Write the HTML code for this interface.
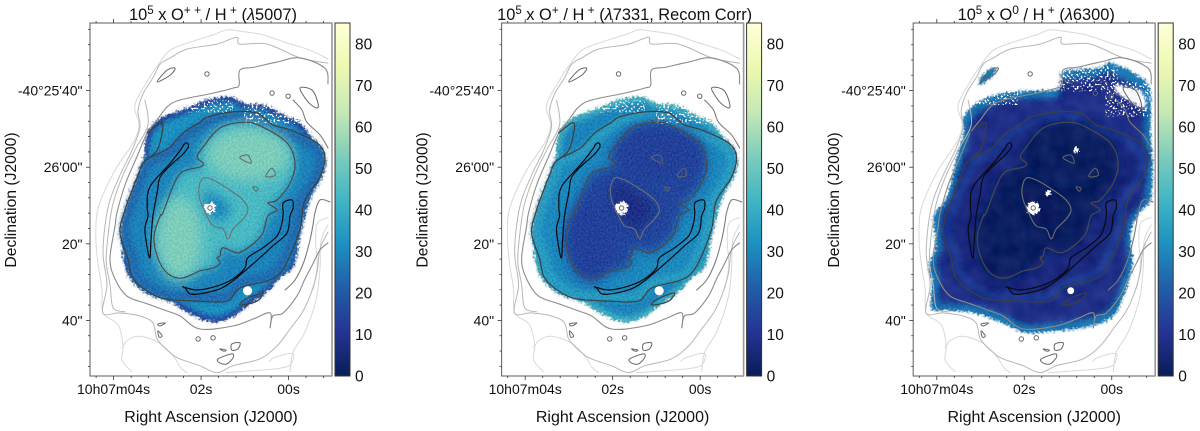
<!DOCTYPE html>
<html lang="en">
<head>
<meta charset="utf-8">
<title>Oxygen abundance maps</title>
<style>
html,body{margin:0;padding:0;background:#fff;width:1200px;height:431px;overflow:hidden}
svg{display:block}
text{font-family:"Liberation Sans",Arial,sans-serif;fill:#111}
.c{fill:none;stroke-linejoin:round;stroke-linecap:round}
.c-a{stroke:#d8d8d8;stroke-width:1}
.c-b{stroke:#b6b6b6;stroke-width:1}
.c-d{stroke:#8c8c8c;stroke-width:1.1}
.c-e{stroke:#7c7c7c;stroke-width:1.1}
.c-g{stroke:#3f3f3f;stroke-width:1.2}
.c-h{stroke:#4a4a4a;stroke-width:1.2}
.c-i{stroke:#707070;stroke-width:1.1}
.c-j{stroke:#0a0a12;stroke-width:1.2}
.c-s{stroke:#666;stroke-width:1}
</style>
</head>
<body>
<svg id="chart" xmlns="http://www.w3.org/2000/svg" width="1200" height="431" viewBox="0 0 1200 431">
  <defs>
    <filter id="speckle-grain" x="-5%" y="-5%" width="110%" height="110%" color-interpolation-filters="sRGB">
      <feTurbulence type="fractalNoise" baseFrequency="0.42" numOctaves="2" seed="4" result="n"/>
      <feDisplacementMap in="SourceGraphic" in2="n" scale="7" xChannelSelector="R" yChannelSelector="G" result="d"/>
      <feTurbulence type="fractalNoise" baseFrequency="0.55" numOctaves="1" seed="9" result="g0"/>
      <feColorMatrix in="g0" type="matrix" values="1 0 0 0 0 1 0 0 0 0 1 0 0 0 0 0 0 0 0 1" result="g"/>
      <feComposite in="d" in2="g" operator="arithmetic" k1="0" k2="1" k3="0.22" k4="-0.11" result="m"/>
      <feComposite in="m" in2="d" operator="in"/>
    </filter>
    <filter id="speckle-smooth" x="-5%" y="-5%" width="110%" height="110%" color-interpolation-filters="sRGB">
      <feTurbulence type="fractalNoise" baseFrequency="0.42" numOctaves="2" seed="7" result="n"/>
      <feDisplacementMap in="SourceGraphic" in2="n" scale="6" xChannelSelector="R" yChannelSelector="G" result="d"/>
      <feTurbulence type="fractalNoise" baseFrequency="0.07" numOctaves="2" seed="12" result="g0"/>
      <feColorMatrix in="g0" type="matrix" values="1 0 0 0 0 1 0 0 0 0 1 0 0 0 0 0 0 0 0 1" result="g"/>
      <feComposite in="d" in2="g" operator="arithmetic" k1="0" k2="1" k3="0.11" k4="-0.065" result="m"/>
      <feComposite in="m" in2="d" operator="in"/>
    </filter>
    <filter id="flecks" x="0" y="0" width="100%" height="100%" color-interpolation-filters="sRGB">
      <feTurbulence type="fractalNoise" baseFrequency="0.5" numOctaves="1" seed="21"/>
      <feColorMatrix type="matrix" values="0 0 0 0 1 0 0 0 0 1 0 0 0 0 1 9 0 0 0 -4.9"/>
    </filter>
    <filter id="soft1" x="-20%" y="-20%" width="140%" height="140%"><feGaussianBlur stdDeviation="1.2"/></filter>
    <filter id="soft3" x="-20%" y="-20%" width="140%" height="140%"><feGaussianBlur stdDeviation="3"/></filter>
    <filter id="soft5" x="-30%" y="-30%" width="160%" height="160%"><feGaussianBlur stdDeviation="5"/></filter>
    <filter id="soft7" x="-50%" y="-50%" width="200%" height="200%"><feGaussianBlur stdDeviation="7"/></filter>
    <linearGradient id="cbar-gradient" x1="0" y1="1" x2="0" y2="0"></linearGradient>
  </defs>
</svg>
<script>
// ---------- data: axis ticks ----------
const raMajorSeconds = [4, 2, 0];
const raMajorLabels = ['10h07m04s', '02s', '00s'];
const decMajorArcsec = [0, 20, 40, 60];
const decMajorLabels = ['-40°25\'40"', '26\'00"', '20"', '40"'];
const colorbarTicks = [0, 10, 20, 30, 40, 50, 60, 70, 80];
const colorMax = 85;
const colormapStops = ['#081d58','#253494','#225ea8','#1d91c0','#41b6c4','#7fcdbb','#c7e9b4','#edf8b1','#ffffd9'];

// ---------- data: region values per panel: rim, body, ring band, ellipse, bright lobes, core, ring interior ----------
const oppRegionValues = [14, 32, 23, 44, 53, 30, 29];
const opRegionValues = [42, 29, 36, 15, 14, 8, 30];
const o0RegionValues = [27, 9, 14, 2, 2, 1, 7];
const panelTitles = ['5007', '7331, Recom Corr', '6300'];

// ---------- data: outlines, [arcsec west of star, arcsec north of star] ----------
const blobOutlineIonized = [[-16.4,19.6],[-13,23.5],[-6.5,26.1],[-1.3,28.2],[5.2,29.2],[9.1,27.4],[14.4,26.9],[19.6,24.3],[23.5,22.4],[26.6,18.5],[29.2,15.1],[30,11.2],[28.7,7.3],[26.6,3.4],[24.8,-2.1],[23.5,-6.3],[23,-11],[21.7,-15.7],[17.7,-18.8],[15.7,-21.4],[10.4,-25.3],[6.5,-28.2],[2.6,-29.8],[-1.3,-29.5],[-6.5,-27.1],[-10.4,-24.5],[-15.7,-22.7],[-19.6,-20.1],[-22.2,-15.7],[-23,-9.7],[-22.2,-2.1],[-21.4,.3],[-19.1,7.3],[-17.5,12.5]];
const blobOutlineNeutral = [[-18.3,23.8],[-13.8,28.2],[-7,30.3],[1.8,30.8],[7,31.3],[7.3,35.5],[12.3,36.5],[17.5,36.8],[20.1,38.1],[26.1,35.5],[30.5,31.3],[30.8,19.6],[31.3,10.7],[30.8,2.1],[27.9,-1.3],[25.6,-6.5],[26.1,-13.3],[25.3,-18.5],[22.7,-25.6],[20.1,-29],[13.8,-31.3],[2.6,-32.6],[-2.6,-32.6],[-8.6,-30],[-14.9,-27.7],[-21.7,-26.9],[-26.6,-26.4],[-26.6,-19.6],[-27.4,-15.1],[-25.6,-9.9],[-26.1,-2.1],[-22.7,2.9],[-20.1,13.3],[-18.3,19.6]];
const contourLightOuter = [[30.8,38.9],[26.1,41.2],[20.1,43.1],[13.8,45.2],[7.8,46.2],[4.4,46.5],[.8,45.2],[-5.2,43.3],[-10.4,41.2],[-13.6,37.3],[-16.2,33.4],[-19.6,26.9],[-18.5,21.7],[-20.1,17],[-24.3,10.7],[-27.4,4.7],[-29.5,-1.3],[-29.8,-8.4],[-29.2,-14.9],[-28.2,-21.4],[-27.9,-27.4],[-24,-30.5],[-22.7,-36],[-23,-39.7],[-20.4,-42.8]];
const contourLightRight = [[20.9,-42.8],[21.7,-37.6],[24.8,-32.4],[27.7,-24],[28.7,-16.2],[29,-8.4],[30.8,-4.4]];
const contourLightLeft = [[-17,28.2],[-16.2,21.7],[-19.6,15.1],[-23,7.9],[-25.4,.8],[-26.6,-7],[-27.1,-14],[-26.1,-20],[-25.3,-26],[-22.2,-27.1]];
const contourLightRight2 = [[27,-21],[28,-15],[27.6,-9],[28,-4],[30.8,-2.5]];
const contourBottomWest = [[-23,-36.5],[-21.5,-34.5],[-18.5,-33.5],[-13.6,-35],[-9.7,-38.5],[-7.8,-41.5],[-6,-43]];
const contourBottomEast = [[4,-43],[11,-42.5],[17,-42],[20.9,-41],[21.6,-38],[17,-39],[15.5,-40]];
const contourSecond = [[30.8,37.8],[23.5,39.2],[14.9,42.8],[7.8,42.8],[7,44.6],[1.8,42.8],[-6,41.5],[-10.4,39.2],[-13,37.6],[-14.9,34],[-17.5,29.8],[-18.8,25.4],[-18.3,21],[-20.4,15],[-23.5,8.6],[-26.1,2.1],[-27.4,-4.4],[-27.9,-12.3],[-26.9,-20.1],[-28,-27.4],[-23.5,-27.4],[-18.3,-28.2],[-14.9,-30],[-13.8,-34.2],[-10.4,-37.8],[-7.8,-39.4],[-2.6,-41.2],[1.8,-43],[6,-41.2],[13,-39.4],[17.5,-36],[20.9,-31.6],[24,-27.4],[26.1,-23],[27.9,-17],[28.7,-10.7],[30.8,-6.3]];
const contourThird = [[30.8,32.4],[30,36.5],[23.5,39.2],[17.5,38.1],[11.7,36.8],[7.8,36],[7.6,32.1],[6,31.3],[.8,30],[-7.8,28.2],[-11.2,26.4],[-13.8,23],[-16.4,19.6],[-19.1,13.3],[-22.2,6],[-24.3,-1.3],[-24.8,-4.7],[-26.1,-13.3],[-24.8,-18.5],[-21.7,-23],[-16.4,-25],[-11.2,-26.9],[-7.8,-28.2],[-2.6,-31.6],[6,-30.8],[11.2,-29],[15.7,-27.4],[15.7,-31.3],[16.4,-28.2],[19.1,-27.4],[22.7,-23],[24.8,-18.5],[26.6,-15.1],[28.7,-11],[30.8,-9.1]];
const contourRimTop = [[21.7,28.2],[24,25.6],[25.3,22.4],[28.7,19.1],[30.8,15.7]];
const contourRimRight = [[31.3,1.6],[28.7,2.1],[27.4,-1.3],[26.9,-4.4],[26.1,-8.4],[24.5,-14.1],[22.2,-18.8],[19.6,-21.4]];
const contourRing = [[-17,12.3],[-13,14.4],[-10.4,15.9],[-7,19.6],[-2.6,22.4],[-.5,23.8],[6,25.1],[12.3,24.8],[16.4,21.7],[20.9,20.4],[27.9,17],[30,13.3],[28.7,8.1],[24.8,2.1],[24,-2.1],[23.5,-5.5],[20.9,-12.5],[18.3,-17],[14.9,-19],[7.8,-20.9],[4.4,-24.3],[-3.4,-24.3],[-11.2,-23.8],[-15.7,-22.2],[-20.1,-18.3],[-21.4,-13.3],[-23.5,-6.5],[-22.2,-.5],[-18.8,8.6]];
const contourLobe = [[-16.4,19.6],[-13,22.2],[-12.3,20.9],[-13.8,15.1],[-17,12.3]];
const contourSliver = [[7.8,-25],[9.9,-23.5],[13.8,-22.2],[12.3,-24.3],[8.6,-25.3]];
const contourEllipse = [[-3.4,13.3],[-1.8,15.9],[2.6,20.9],[9.1,22.4],[13.8,21.1],[20.1,17],[22.2,11.7],[20.9,6.5],[17.5,2.1],[15.1,1.3],[17.5,-.5],[15.1,-2.1],[13.8,-6.5],[11.2,-9.4],[7.3,-11.7],[3.4,-10.4],[2.6,-12.5],[1.8,-13],[2.6,-14.4],[.8,-15.7],[-2.6,-16.4],[-7.3,-18.3],[-11.2,-17],[-13.8,-12.5],[-14.6,-7.3],[-13,-2.1],[-12.3,-1.3],[-9.7,5.5],[-7.3,9.4],[-2.6,10.7],[-1.8,11.7]];
const contourCore = [[-1.8,7.8],[.8,7.3],[5.2,4.7],[8.6,2.1],[9.9,-.5],[8.6,-2.9],[6,-5.5],[4.7,-8.1],[3.4,-5.5],[.8,-4.7],[-.8,-2.1],[-2.6,2.1],[-2.9,5.2]];
const filamentEast = [[-7,16.4],[-6,17],[-5.7,15.9],[-7.3,13.8],[-9.7,11.7],[-13,8.1],[-13.8,3.9],[-14.9,-2.1],[-15.4,-8.4],[-15.7,-13],[-16.4,-10.4],[-17,-5.5],[-16.2,-2.1],[-16.4,.3],[-15.7,5.5],[-10.4,11.7],[-7.3,15.7]];
const filamentWest = [[19.1,-1.3],[19.1,1.3],[21.4,2.1],[21.7,0],[20.9,-2.1],[20.1,-6.5],[16.4,-9.9],[13,-13],[9.7,-15.9],[6,-19],[2.6,-21.1],[-2.6,-22.4],[-5.2,-22.4],[-6.5,-20.9],[-7,-20.6],[-3.4,-21.4],[1.8,-20.4],[6,-18.5],[9.1,-15.7],[9.9,-13],[13.8,-10.4],[17.5,-7.3],[18.8,-3.9]];
const smallContours = [
  [[-13.8,32.9],[-11.2,36],[-9.1,36.5],[-10.4,34.7]],
  [[23.5,31.3],[26.6,30.8],[28.2,27.4],[27.9,26.1],[25.6,27.7]],
  [[7.8,13.3],[9.9,13.8],[10.7,11.7],[8.6,12.5]],
  [[14.6,8.6],[16.2,10.4],[17,8.6],[15.1,8.1]],
  [[11.2,5.5],[12.5,5.2],[12,4.4]],
  [[-13.6,-30.3],[-11.7,-30],[-13,-30.8]],
  [[-13.6,-32.1],[-12.5,-33.4],[-13.3,-33.7]],
  [[5.7,-35.5],[7.8,-35.2],[7.3,-36.8],[5.7,-37.1]],
  [[2.6,-36.8],[4.2,-37.1],[3.6,-37.4]],
  [[2.1,-39.4],[5.7,-38.1],[6,-39.1],[4.4,-40.7],[2.6,-40.5]]
];
const smallRingCentres = [[-.8,35],[16.2,30],[20.4,29.2],[-3.1,-34.2],[.8,-33.9],[0,0]];
const brightLobeCentres = [[10,14],[-8,-8]];
const brightLobeRadii = [[11,7],[6,11]];
const patchNeutralWest = [[-14,34],[-11,36.5],[-9.5,36],[-12,33],[-14,32]];
const neutralGapOutline = [[21.9,32.1],[28.2,30.3],[29.2,26.1],[24.8,28.2],[21.7,30.3]];
const neutralHoleCentres = [[11.2,15.1],[3.9,3.9]];
const spotOffset = [9.8,-21.6];
const starHoleRadii = [1.4,1.7,1.7];
const spotHoleRadii = [1.2,1.2,.9];
const coreShrinkFactors = [.55,.85,.85];
const bodyShrinkFactors = [.95,.95,.93];
// flecked sky areas along the rims: [west edge, north edge, width, height] in arcsec
const ionizedFleckAreas = [[9,28.5,18,6.5],[-8,28,14,3]];
const neutralFleckAreas = [[7,37,15,6.5],[19,33,11,9],[-16,31,12,4]];

// ---------- scales ----------
const pxPerArcsec = 3.83;
const frameLeft = 90, frameRight = 332, frameTop = 23, frameBottom = 376;
const frameW = frameRight - frameLeft, frameH = frameBottom - frameTop;
const starX = 120, starY = 208;
const panelOffsets = [0, 411.6, 823.2];
const xOff = a => starX + a * pxPerArcsec;
const yOff = d => starY - d * pxPerArcsec;
const xRa = s => frameLeft + xOff((1.796 - s) * 11.42);
const yDec = d => yOff(30.65 - d);
const yCbar = v => frameBottom - (v / colorMax) * frameH;
const hex = h => [1,3,5].map(i => parseInt(h.substr(i,2),16));
function colorOf(v){
  const t = Math.max(0, Math.min(1, v / colorMax)) * (colormapStops.length - 1);
  const i = Math.min(colormapStops.length - 2, Math.floor(t));
  const a = hex(colormapStops[i]), b = hex(colormapStops[i+1]), f = t - i;
  return 'rgb(' + a.map((c,k) => Math.round(c + (b[k]-c)*f)).join(',') + ')';
}

// ---------- helpers ----------
const NS = 'http://www.w3.org/2000/svg';
const svg = document.getElementById('chart');
function mk(parent, tag, attrs, name, interactable){
  const el = document.createElementNS(NS, tag);
  for (const k in attrs) el.setAttribute(k, attrs[k]);
  
  
  parent.appendChild(el);
  return el;
}
function smoothPath(pts, closed){
  const P = pts.map(p => [xOff(p[0]), yOff(p[1])]);
  const n = P.length;
  const at = i => closed ? P[(i+n)%n] : P[Math.max(0,Math.min(n-1,i))];
  let d = 'M' + P[0][0].toFixed(1) + ' ' + P[0][1].toFixed(1);
  const last = closed ? n : n-1;
  for (let i=0;i<last;i++){
    const p0=at(i-1),p1=at(i),p2=at(i+1),p3=at(i+2);
    d += 'C'+(p1[0]+(p2[0]-p0[0])/6).toFixed(1)+' '+(p1[1]+(p2[1]-p0[1])/6).toFixed(1)+' '
        +(p2[0]-(p3[0]-p1[0])/6).toFixed(1)+' '+(p2[1]-(p3[1]-p1[1])/6).toFixed(1)+' '
        +p2[0].toFixed(1)+' '+p2[1].toFixed(1);
  }
  return d + (closed ? 'Z' : '');
}
const shrink = (pts,k) => pts.map(p => [3.5 + (p[0]-3.5)*k, (p[1])*k]);
const shrinkToStar = (pts,k) => pts.map(p => [p[0]*k, p[1]*k]);

// ---------- colour bar gradient ----------
const grad = document.getElementById('cbar-gradient');
colormapStops.forEach((c,i) => {
  const s = document.createElementNS(NS,'stop');
  s.setAttribute('offset', (i/(colormapStops.length-1)*100)+'%');
  s.setAttribute('stop-color', c);
  grad.appendChild(s);
});

// ---------- panels ----------
function drawHeat(g, idx){
  const vals = [oppRegionValues, opRegionValues, o0RegionValues][idx];
  const blob = idx === 2 ? blobOutlineNeutral : blobOutlineIonized;
  const heat = mk(g, 'g', {filter: idx === 2 ? 'url(#speckle-smooth)' : 'url(#speckle-grain)'}, 'abundance-heatmap', false);
  mk(heat,'path',{d:smoothPath(blob,true),fill:colorOf(vals[0]),filter:'url(#soft1)'},'heat-rim',false);
  mk(heat,'path',{d:smoothPath(shrink(blob,bodyShrinkFactors[idx]),true),fill:colorOf(vals[1]),filter:'url(#soft3)'},'heat-body',false);
  mk(heat,'path',{d:smoothPath(contourRing,true),fill:colorOf(vals[6]),filter:'url(#soft3)'},'heat-ring-interior',false);
  mk(heat,'path',{d:smoothPath(shrink(contourRing,.95),true),fill:'none',stroke:colorOf(vals[2]),'stroke-width':8,filter:'url(#soft3)'},'heat-ring-band',false);
  mk(heat,'path',{d:smoothPath(contourEllipse,true),fill:colorOf(vals[3]),filter:'url(#soft5)'},'heat-ellipse',false);
  brightLobeCentres.forEach((c,i) => {
    mk(heat,'ellipse',{cx:xOff(c[0]),cy:yOff(c[1]),rx:brightLobeRadii[i][0]*pxPerArcsec,ry:brightLobeRadii[i][1]*pxPerArcsec,fill:colorOf(vals[4]),filter:'url(#soft7)'},'heat-bright-lobe',false);
  });
  mk(heat,'path',{d:smoothPath(shrinkToStar(contourCore,coreShrinkFactors[idx]),true),fill:colorOf(vals[5]),filter:'url(#soft5)'},'heat-core',false);
  if (idx === 2){
    mk(heat,'path',{d:smoothPath(patchNeutralWest,true),fill:colorOf(28),filter:'url(#soft1)'},'heat-west-patch',false);
    mk(heat,'path',{d:smoothPath(neutralGapOutline,true),fill:'#fff',filter:'url(#soft1)'},'neutral-map-gap',false);
    neutralHoleCentres.forEach(c => {
      mk(heat,'circle',{cx:xOff(c[0]),cy:yOff(c[1]),r:3,fill:'#fff'},'neutral-map-hole',false);
    });
  }
  mk(heat,'circle',{cx:xOff(0),cy:yOff(0),r:starHoleRadii[idx]*pxPerArcsec,fill:'#fff'},'central-star-mask',false);
  (idx === 2 ? neutralFleckAreas : ionizedFleckAreas).forEach(a => {
    mk(g,'rect',{x:xOff(a[0]),y:yOff(a[1]),width:a[2]*pxPerArcsec,height:a[3]*pxPerArcsec,fill:'#fff',filter:'url(#flecks)'},'rim-flecks',false);
  });
  mk(g,'circle',{cx:xOff(spotOffset[0]),cy:yOff(spotOffset[1]),r:spotHoleRadii[idx]*pxPerArcsec,fill:'#fff'},'field-star-mask',false);
}
function drawContours(g){
  const c = mk(g,'g',{},'contour-lines',false);
  const line = (pts,cls,closed,name) => mk(c,'path',{d:smoothPath(pts,closed),class:'c '+cls},name,false);
  line(contourLightOuter,'c-a',false,'contour-outer');
  line(contourLightRight,'c-a',false,'contour-outer-right');
  line(contourBottomWest,'c-a',false,'contour-bottom-west');
  line(contourBottomEast,'c-a',false,'contour-bottom-east');
  line(contourLightRight2,'c-a',false,'contour-right-inner');
  line(contourLightLeft,'c-b',false,'contour-left-inner');
  line(contourSecond,'c-b',false,'contour-second');
  line(contourThird,'c-d',false,'contour-third');
  line(contourRimTop,'c-e',false,'contour-rim-top');
  line(contourRimRight,'c-e',false,'contour-rim-right');
  line(contourRing,'c-g',true,'contour-ring');
  line(contourLobe,'c-g',false,'contour-lobe');
  line(contourSliver,'c-g',true,'contour-sliver');
  line(contourEllipse,'c-h',true,'contour-ellipse');
  line(contourCore,'c-i',true,'contour-core');
  line(filamentEast,'c-j',true,'filament-east');
  line(filamentWest,'c-j',true,'filament-west');
  smallContours.forEach(s => line(s,'c-s',true,'contour-knot'));
  smallRingCentres.forEach(r => {
    mk(c,'circle',{cx:xOff(r[0]),cy:yOff(r[1]),r:2.2,class:'c c-s'},'contour-ring-knot',false);
  });
}
function drawAxes(g){
  const tick = (x1,y1,x2,y2,name) => mk(g,'line',{x1,y1,x2,y2,stroke:'#333','stroke-width':.8},name,false);
  for (let k=-2;k<=18;k++){
    const s = 4.8 - k*0.4;
    const x = xRa(s);
    if (x < frameLeft || x > frameRight) continue;
    const major = raMajorSeconds.some(m => Math.abs(m-s) < 1e-6);
    const len = major ? 4 : 2;
    tick(x,frameBottom,x,frameBottom+len,major?'x-major-tick':'x-minor-tick');
    tick(x,frameTop,x,frameTop-len,major?'x-top-major-tick':'x-top-minor-tick');
  }
  for (let d=-16;d<=72;d+=4){
    const y = yDec(d);
    if (y < frameTop || y > frameBottom) continue;
    const major = decMajorArcsec.includes(d);
    tick(frameLeft,y,frameLeft-(major?4:2),y,major?'y-major-tick':'y-minor-tick');
  }
  raMajorSeconds.forEach((s,i) => {
    const t = mk(g,'text',{x:xRa(s),y:394,'text-anchor':'middle','font-size':14},'x-tick-label',false);
    t.textContent = raMajorLabels[i];
  });
  decMajorArcsec.forEach((d,i) => {
    const t = mk(g,'text',{x:82.5,y:yDec(d)+5,'text-anchor':'end','font-size':14},'y-tick-label',false);
    t.textContent = decMajorLabels[i];
  });
  const xt = mk(g,'text',{x:211,y:422,'text-anchor':'middle','font-size':16},'x-axis-title',false);
  xt.textContent = 'Right Ascension (J2000)';
  const yt = mk(g,'text',{x:16,y:200,'text-anchor':'middle','font-size':15.7,transform:'rotate(-90 16 200)'},'y-axis-title',false);
  yt.textContent = 'Declination (J2000)';
}
function drawTitle(g, idx){
  const t = mk(g,'text',{x:213,y:20,'text-anchor':'middle','font-size':16.4,'xml:space':'preserve'},'panel-title',false);
  const sup = ['+  +','+','0'][idx];
  const part = (txt,dy,size,style) => {
    const s = document.createElementNS(NS,'tspan');
    if (dy) s.setAttribute('dy',dy);
    if (size) s.setAttribute('font-size',size);
    if (style) s.setAttribute('font-style',style);
    s.textContent = txt;
    t.appendChild(s);
  };
  part('10');
  part('5',-6,11.5);
  part(' x O',6);
  part(sup,-6,12);
  part(' / H',6);
  part(' +',-6,12);
  part('  (',6);
  part('λ',0,null,'italic');
  part(panelTitles[idx]+')');
}
function drawColorbar(g){
  const cb = mk(g,'g',{},'colorbar',false);
  mk(cb,'rect',{x:frameRight+3,y:frameTop,width:15,height:frameH,fill:'url(#cbar-gradient)',stroke:'#333','stroke-width':1},'colorbar-ramp',false);
  colorbarTicks.forEach(v => {
    const t = mk(cb,'text',{x:frameRight+23,y:yCbar(v)+5.5,'font-size':15.5},'colorbar-tick-label',false);
    t.textContent = v;
  });
}
panelOffsets.forEach((off,idx) => {
  const panel = mk(svg,'g',{transform:'translate('+off+' 0)'},'panel-'+(idx+1),false);
  const clipId = 'clip'+idx;
  const clip = document.createElementNS(NS,'clipPath');
  clip.setAttribute('id',clipId);
  const cr = document.createElementNS(NS,'rect');
  cr.setAttribute('x',frameLeft);cr.setAttribute('y',frameTop);cr.setAttribute('width',frameW);cr.setAttribute('height',frameH);
  clip.appendChild(cr);
  panel.appendChild(clip);
  const inner = mk(panel,'g',{'clip-path':'url(#'+clipId+')'},'map-area',false);
  const shifted = mk(inner,'g',{transform:'translate('+frameLeft+' 0)'},'map-content',false);
  drawHeat(shifted, idx);
  drawContours(shifted);
  mk(panel,'rect',{x:frameLeft,y:frameTop,width:frameW,height:frameH,fill:'none',stroke:'#6a6a6a','stroke-width':1.1},'axes-frame',false);
  mk(panel,'line',{x1:frameRight,y1:frameTop,x2:frameRight,y2:frameBottom,stroke:'#999','stroke-width':1.6},'axes-right-edge',false);
  drawAxes(panel);
  drawTitle(panel, idx);
  drawColorbar(panel);
});
</script>
</body>
</html>
